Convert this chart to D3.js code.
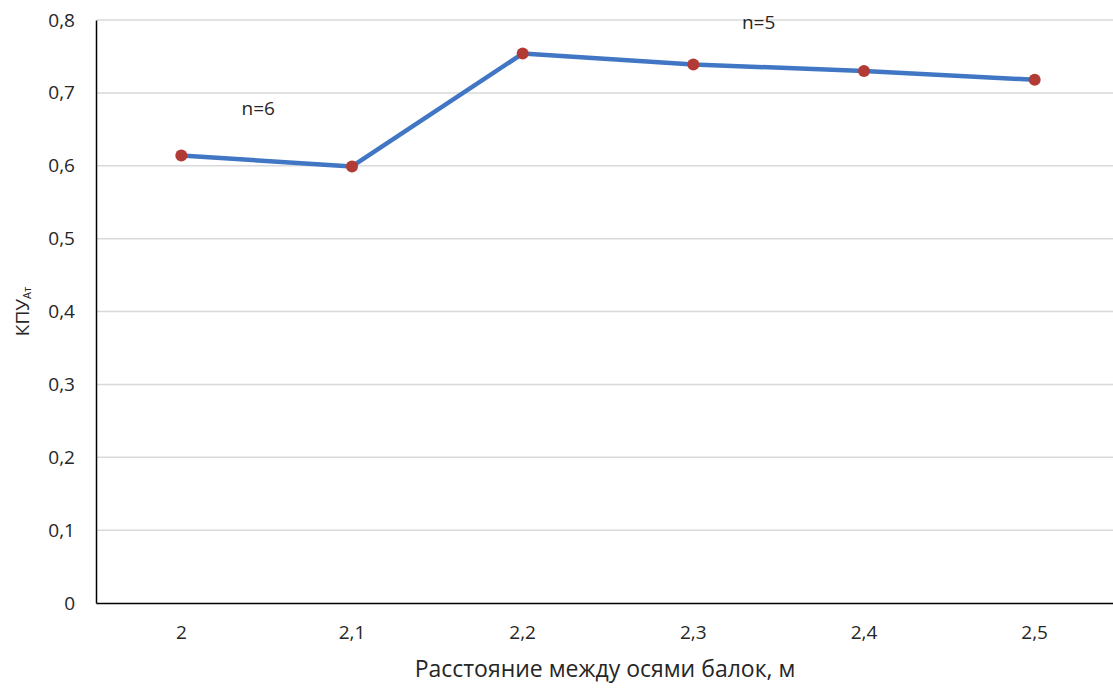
<!DOCTYPE html>
<html>
<head>
<meta charset="utf-8">
<script src="https://cdn.jsdelivr.net/npm/d3@7"></script>
<style>
  body { margin: 0; background: #fff; }
  text { font-family: "Open Sans", Lato, sans-serif; fill: #262626; }
</style>
</head>
<body>
<div id="chart"></div>
<script>
// data
var categories = ["2", "2,1", "2,2", "2,3", "2,4", "2,5"];
var values = [0.614, 0.599, 0.754, 0.739, 0.730, 0.718];
var yTicks = [0, 0.1, 0.2, 0.3, 0.4, 0.5, 0.6, 0.7, 0.8];
var notes = [
  {cat: "2", dx: 0.353, v: 0.679, label: "n=6"},
  {cat: "2,3", dx: 0.285, v: 0.797, label: "n=5"}
];

var W = 1113, H = 689;
var margin = {top: 20, right: -7, bottom: 86, left: 96};
var width = W - margin.left - margin.right,
    height = H - margin.top - margin.bottom;

var svg = d3.select("#chart")
  .append("svg")
    .attr("width", W)
    .attr("height", H)
  .append("g")
    .attr("transform", "translate(" + margin.left + "," + margin.top + ")");

var x = d3.scaleBand()
  .domain(categories)
  .range([0, width]);

var y = d3.scaleLinear()
  .domain([0, 0.8])
  .range([height, 0]);

var fmt = function(d){ return d === 0 ? "0" : d3.format(".1f")(d).replace(".", ","); };

// gridlines
svg.append("g")
  .selectAll("line")
  .data(yTicks.filter(function(d){ return d > 0; }))
  .enter()
  .append("line")
    .attr("x1", 1)
    .attr("x2", width)
    .attr("y1", function(d){ return y(d); })
    .attr("y2", function(d){ return y(d); })
    .style("stroke", "#d9d9d9")
    .style("stroke-width", 1.5);

// y axis
var yAxis = svg.append("g")
  .call(d3.axisLeft(y).tickValues(yTicks).tickFormat(fmt).tickSize(0).tickPadding(21));
yAxis.select(".domain").attr("stroke", "#000").attr("stroke-width", 1.5);
yAxis.selectAll("text").style("font-size", "19px").attr("fill", "#222");

// x axis
var xAxis = svg.append("g")
  .attr("transform", "translate(0," + height + ")")
  .call(d3.axisBottom(x).tickSize(0).tickPadding(23));
xAxis.select(".domain").attr("stroke", "#000").attr("stroke-width", 1.5);
xAxis.selectAll("text").style("font-size", "19px").attr("fill", "#222");

// axis titles
svg.append("text")
  .attr("x", 509)
  .attr("y", height + 74)
  .attr("text-anchor", "middle")
  .style("font-size", "23px")
  .text("Расстояние между осями балок, м");

var yt = svg.append("text")
  .attr("transform", "translate(-67," + (y(0.4)) + ") rotate(-90)")
  .attr("text-anchor", "middle")
  .style("font-size", "19px");
yt.append("tspan").text("КПУ");
yt.append("tspan").attr("dy", 2).style("font-size", "11px").text("Ат");

// line
var line = d3.line()
  .x(function(d, i){ return x(categories[i]) + x.bandwidth() / 2; })
  .y(function(d){ return y(d); });

svg.append("path")
  .datum(values)
  .attr("d", line)
  .attr("fill", "none")
  .attr("stroke", "#4176c4")
  .attr("stroke-width", 4.5)
  .attr("stroke-linejoin", "round");

svg.append("g")
  .selectAll("circle")
  .data(values)
  .enter()
  .append("circle")
    .attr("cx", function(d, i){ return x(categories[i]) + x.bandwidth() / 2; })
    .attr("cy", function(d){ return y(d); })
    .attr("r", 6)
    .style("fill", "#b23b36");

// annotations
svg.append("g")
  .selectAll("text")
  .data(notes)
  .enter()
  .append("text")
    .attr("x", function(d){ return x(d.cat) + x.bandwidth() / 2 + d.dx * x.bandwidth(); })
    .attr("y", function(d){ return y(d.v); })
    .attr("dy", "0.35em")
    .style("font-size", "19px")
    .text(function(d){ return d.label; });
</script>
</body>
</html>
